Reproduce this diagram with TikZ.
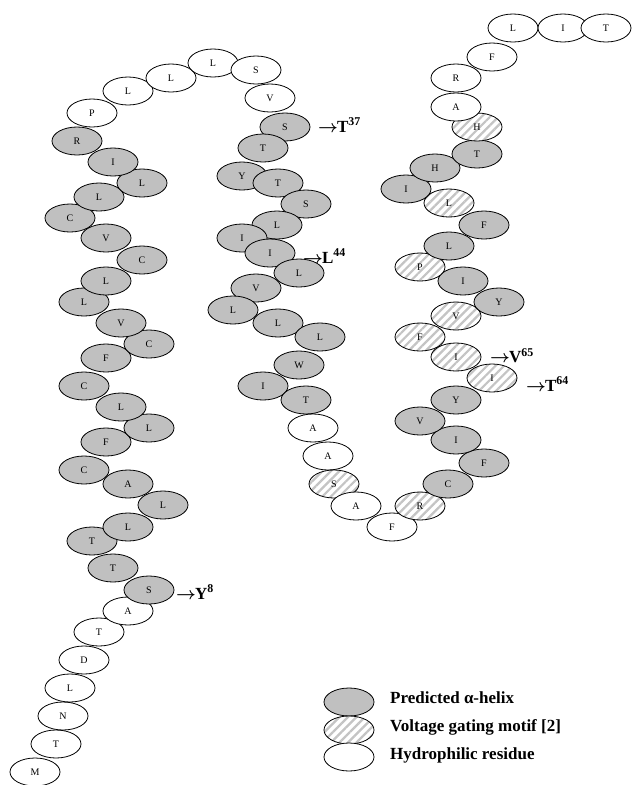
\documentclass[tikz,border=0pt]{standalone}
\usepackage{fontspec}
\setmainfont{Liberation Serif}
\usetikzlibrary{shapes.geometric,patterns.meta}
\definecolor{helixgray}{RGB}{192,192,192}
\definecolor{hatchgray}{RGB}{196,196,196}
\tikzset{
  residue/.style={draw, ellipse, line width=0.8pt, minimum width=50pt, minimum height=28pt,
    inner sep=0pt, font=\fontsize{10}{10}\selectfont},
  helix/.style={residue, fill=helixgray},
  motif/.style={residue, preaction={fill=white},
    pattern={Lines[angle=45,distance=6pt,line width=2.2pt]}, pattern color=hatchgray},
  hydro/.style={residue, fill=white},
  mutation/.style={anchor=west, inner sep=0pt, font=\fontsize{17}{17}\selectfont\bfseries\boldmath},
  legendtext/.style={anchor=base west, inner sep=0pt, font=\fontsize{17}{17}\selectfont\bfseries}
}
\newcommand\mutto{$\rightarrow$\kern-1pt}

\begin{document}
\begin{tikzpicture}[x=1pt,y=-1pt]
  \useasboundingbox (0,0) rectangle (632,785);
  % residues, N-terminus first
  \foreach \x/\y/\aa/\kind [count=\i] in {
    35/772/M/hydro, 56/744/T/hydro, 63/716/N/hydro, 70/688/L/hydro, 84/660/D/hydro,
    99/632/T/hydro, 128/611/A/hydro, 149/590/S/helix, 113/568/T/helix, 92/541/T/helix,
    128/527/L/helix, 163/505/L/helix, 128/484/A/helix, 84/470/C/helix, 106/442/F/helix,
    149/428/L/helix, 121/407/L/helix, 84/386/C/helix, 106/358/F/helix, 149/344/C/helix,
    121/323/V/helix, 84/302/L/helix, 106/281/L/helix, 142/260/C/helix, 106/238/V/helix,
    70/218/C/helix, 99/197/L/helix, 142/183/L/helix, 113/162/I/helix, 77/141/R/helix,
    92/113/P/hydro, 128/91/L/hydro, 171/78/L/hydro, 213/63/L/hydro, 256/70/S/hydro,
    270/98/V/hydro, 285/127/S/helix, 263/148/T/helix, 242/176/Y/helix, 278/183/T/helix,
    306/204/S/helix, 277/225/L/helix, 242/238/I/helix, 270/253/I/helix, 299/273/L/helix,
    256/288/V/helix, 233/310/L/helix, 278/323/L/helix, 320/337/L/helix, 299/365/W/helix,
    263/386/I/helix, 306/400/T/helix, 313/428/A/hydro, 328/456/A/hydro, 334/484/S/motif,
    356/506/A/hydro, 392/527/F/hydro, 420/506/R/motif, 448/484/C/helix, 484/463/F/helix,
    456/440/I/helix, 420/421/V/helix, 456/400/Y/helix, 492/378/I/motif, 456/357/I/motif,
    420/337/F/motif, 456/316/V/motif, 499/302/Y/helix, 463/281/I/helix, 420/267/P/motif,
    449/246/L/helix, 484/225/F/helix, 449/203/L/motif, 406/189/I/helix, 435/168/H/helix,
    477/154/T/helix, 477/127/H/motif, 456/107/A/hydro, 456/78/R/hydro, 492/57/F/hydro,
    513/28/L/hydro, 563/28/I/hydro, 606/28/T/hydro}
    \node[\kind] (r\i) at (\x,\y) {\aa};
  % mutations
  \node[mutation] (mut8) at (176,592) {\mutto Y\textsuperscript{8}};
  \node[mutation] (mut37) at (318,125) {\mutto T\textsuperscript{37}};
  \node[mutation] (mut44) at (303,256) {\mutto L\textsuperscript{44}};
  \node[mutation] (mut65) at (490,356) {\mutto V\textsuperscript{65}};
  \node[mutation] (mut64) at (526,384) {\mutto T\textsuperscript{64}};
  % legend
  \node[helix] (keyhelix) at (349,702) {};
  \node[motif] (keymotif) at (349,730) {};
  \node[hydro] (keyhydro) at (349,757) {};
  \node[legendtext] (txthelix) at (390,703) {Predicted α-helix};
  \node[legendtext] (txtmotif) at (390,731) {Voltage gating motif [2]};
  \node[legendtext] (txthydro) at (390,759) {Hydrophilic residue};
\end{tikzpicture}
\end{document}
